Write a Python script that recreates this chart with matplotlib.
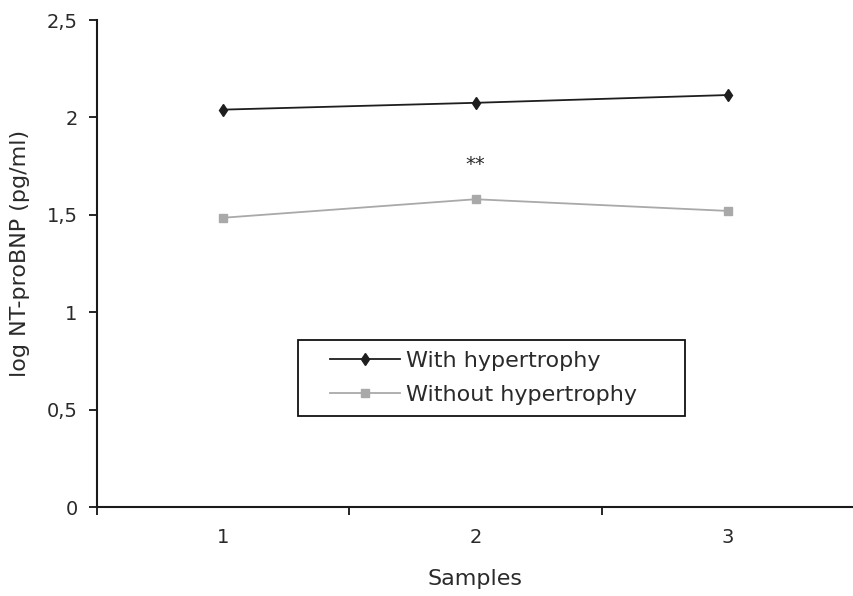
import matplotlib
matplotlib.use('Agg')
import matplotlib.pyplot as plt
from matplotlib.patches import Rectangle

plt.rcParams['font.family'] = ['DejaVu Sans']

samples = [1, 2, 3]
with_hyp = [2.04, 2.075, 2.115]
without_hyp = [1.485, 1.58, 1.52]
y_ticks = [0, 0.5, 1, 1.5, 2, 2.5]
y_tick_labels = ['0', '0,5', '1', '1,5', '2', '2,5']
star_label = '**'
star_pos = (2, 1.76)

text_col = '#2a2a2a'

fig = plt.figure(figsize=(8.54, 5.96), dpi=100)
ax = fig.add_axes([0.1136, 0.1493, 0.8864, 0.8171])

ax.plot(samples, with_hyp, color='#1e1e1e', lw=1.3, marker='d', ms=6,
        label='With hypertrophy')
ax.plot(samples, without_hyp, color='#a9a9a9', lw=1.3, marker='s', ms=6,
        label='Without hypertrophy')
ax.text(star_pos[0], star_pos[1], star_label, ha='center', va='center', fontsize=14,
        color=text_col)

ax.set_xlim(0.5, 3.5)
ax.set_ylim(0, 2.5)
ax.set_yticks(y_ticks)
ax.set_yticklabels(y_tick_labels)
# category axis: ticks between categories, labels centred
ax.set_xticks([0.5, 1.5, 2.5, 3.5])
ax.set_xticklabels([])
ax.set_xticks(samples, minor=True)
ax.set_xticklabels([str(s) for s in samples], minor=True)
ax.tick_params(axis='x', which='minor', length=0, pad=15, labelsize=14,
               labelcolor=text_col)
ax.tick_params(axis='x', which='major', length=6, width=1.2, direction='out')
ax.tick_params(axis='y', length=6, width=1.2, direction='out', pad=8, labelsize=14,
               labelcolor=text_col)

for s in ['top', 'right']:
    ax.spines[s].set_visible(False)
for s in ['left', 'bottom']:
    ax.spines[s].set_linewidth(1.5)
    ax.spines[s].set_color('#1a1a1a')

ax.set_xlabel('Samples', fontsize=16, color=text_col, va='top')
ax.xaxis.set_label_coords(0.499, -0.128)
ax.set_ylabel('log NT-proBNP (pg/ml)', fontsize=16, color=text_col)
ax.yaxis.set_label_coords(-0.088, 0.52)

leg = ax.legend(loc='center', bbox_to_anchor=(0.5660, 0.366),
                bbox_transform=fig.transFigure, frameon=False, fontsize=16,
                handlelength=3.15, handletextpad=0.3, labelspacing=0.62)
for t in leg.get_texts():
    t.set_color(text_col)
fig.patches.append(Rectangle((298 / 854, 1 - 416 / 596), 387 / 854, 76 / 596,
                             transform=fig.transFigure, fill=False,
                             edgecolor='#111111', lw=1.3))

fig.savefig('out.png', dpi=100)
